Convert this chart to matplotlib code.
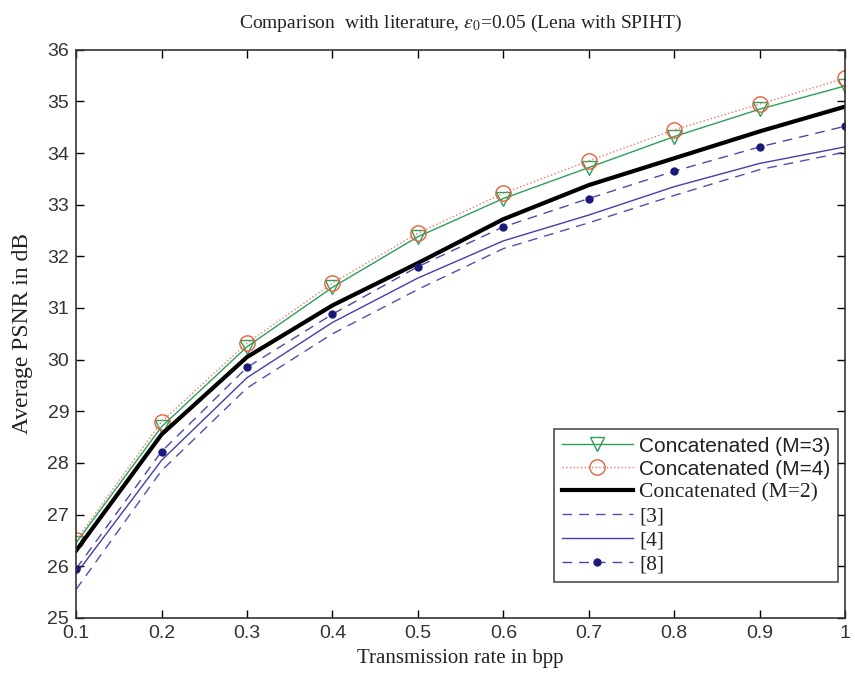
import matplotlib.pyplot as plt
import numpy as np

# transmission rates (bpp)
rate = [0.1, 0.2, 0.3, 0.4, 0.5, 0.6, 0.7, 0.8, 0.9, 1.0]

# average PSNR in dB
concat_m3 = [26.45, 28.70, 30.25, 31.40, 32.38, 33.12, 33.72, 34.32, 34.85, 35.30]
concat_m4 = [26.50, 28.80, 30.32, 31.48, 32.45, 33.22, 33.85, 34.45, 34.95, 35.45]
concat_m2 = [26.30, 28.55, 30.05, 31.05, 31.87, 32.72, 33.38, 33.90, 34.42, 34.90]
ref3 = [25.55, 27.85, 29.45, 30.50, 31.36, 32.15, 32.65, 33.18, 33.68, 34.02]
ref4 = [25.85, 28.05, 29.65, 30.72, 31.58, 32.30, 32.80, 33.35, 33.80, 34.12]
ref8 = [25.95, 28.22, 29.85, 30.88, 31.80, 32.57, 33.12, 33.65, 34.12, 34.52]

serif = 'Liberation Serif'
sans = 'Liberation Sans'
plt.rcParams['mathtext.fontset'] = 'stix'

fig = plt.figure(figsize=(8.55, 6.73), dpi=100)
ax = fig.add_axes([0.089, 0.082, 0.8995, 0.844])

ax.plot(rate, concat_m3, color='#2ca05a', lw=1.0, marker='v', ms=10,
        mfc='none', mec='#2ca05a', mew=1.0, label='Concatenated (M=3)')
ax.plot(rate, concat_m4, color='#e87a6a', lw=1.0, ls=':', marker='o', ms=11,
        mfc='none', mec='#e8603c', mew=1.0, label='Concatenated (M=4)')
ax.plot(rate, concat_m2, color='black', lw=3.0, label='Concatenated (M=2)')
ax.plot(rate, ref3, color='#5050b0', lw=1.0, ls=(0, (7, 5)), label='[3]')
ax.plot(rate, ref4, color='#4040a8', lw=1.0, label='[4]')
ax.plot(rate, ref8, color='#4a4aa8', lw=1.0, ls=(0, (7, 5)), marker='o', ms=5,
        mfc='#1a1a7a', mec='#1a1a7a', label='[8]')

ax.set_xlim(0.1, 1.0)
ax.set_ylim(25, 36)
ax.set_xticks(rate)
ax.set_xticklabels(['0.1', '0.2', '0.3', '0.4', '0.5', '0.6', '0.7', '0.8', '0.9', '1'])
ax.set_yticks(np.arange(25, 37, 1))
ax.tick_params(direction='in', top=True, right=True, length=6, width=1,
               labelsize=14, pad=5)
for lab in ax.get_xticklabels() + ax.get_yticklabels():
    lab.set_family(sans)
    lab.set_color('#333333')
for s in ax.spines.values():
    s.set_linewidth(1.2)
    s.set_color('#333333')

ax.set_title(r'Comparison  with literature, $\varepsilon_0$=0.05 (Lena with SPIHT)',
             family=serif, fontsize=14, pad=16, color='#222222')
ax.set_xlabel('Transmission rate in bpp', family=serif, fontsize=15, labelpad=5,
              color='#222222')
ax.set_ylabel('Average PSNR in dB', family=serif, fontsize=17, labelpad=10,
              color='#222222')

leg = ax.legend(loc='lower right', bbox_to_anchor=(0.991, 0.063), fontsize=15.5,
                frameon=True, fancybox=False, edgecolor='#222222',
                labelspacing=0.18, handlelength=3.3, handletextpad=0.3,
                borderpad=0.35, borderaxespad=0)
leg.get_frame().set_linewidth(1.2)
for i, t in enumerate(leg.get_texts()):
    t.set_family(sans if i < 2 else serif)
    if i < 2:
        t.set_fontsize(15)
    t.set_color('#222222')

fig.savefig('out.png', dpi=100)
